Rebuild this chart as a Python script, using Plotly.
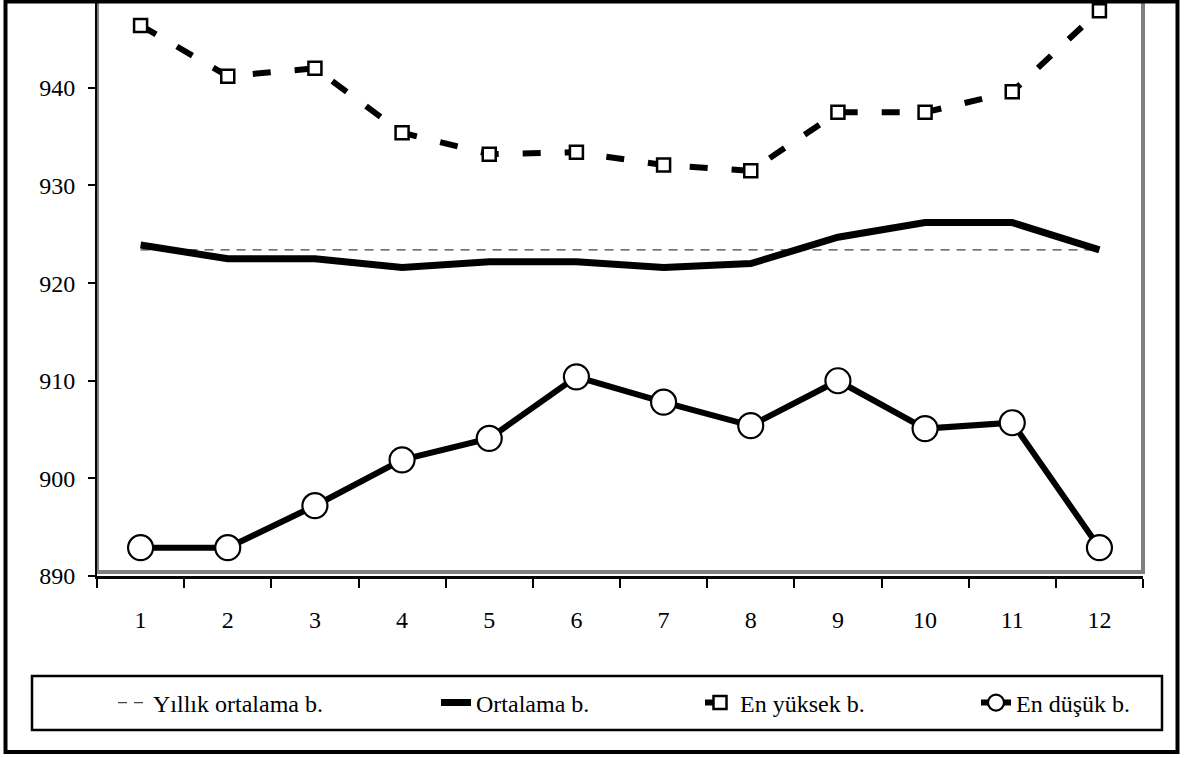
import plotly.graph_objects as go

# ---------------- data ----------------
months = ["1", "2", "3", "4", "5", "6", "7", "8", "9", "10", "11", "12"]
yearly_mean = [923.4, 923.4, 923.4, 923.4, 923.4, 923.4, 923.4, 923.4, 923.4, 923.4, 923.4, 923.4]
mean_p = [923.9, 922.5, 922.5, 921.6, 922.2, 922.2, 921.6, 922.0, 924.7, 926.2, 926.2, 923.4]
max_p = [946.4, 941.2, 942.0, 935.4, 933.2, 933.4, 932.1, 931.5, 937.5, 937.5, 939.6, 947.9]
min_p = [892.9, 892.9, 897.2, 901.9, 904.1, 910.4, 907.8, 905.4, 910.0, 905.1, 905.7, 892.9]
y_ticks = [890, 900, 910, 920, 930, 940]
series_names = ["Yıllık ortalama b.", "Ortalama b.", "En yüksek b.", "En düşük b."]

# ---------------- geometry ----------------
W, H = 1184, 758
L, R, T, B = 97, 1143, 0, 576
FONT = "Liberation Serif"


def px(x):
    return (x - L) / (R - L)


def py(y):
    return (B - y) / (B - T)


fig = go.Figure()

fig.add_trace(go.Scatter(
    x=months, y=yearly_mean, name=series_names[0], mode="lines",
    line=dict(color="#444444", width=1.2, dash="9px,7px"),
    legend="legend",
))
fig.add_trace(go.Scatter(
    x=months, y=mean_p, name=series_names[1], mode="lines",
    line=dict(color="black", width=7),
    legend="legend2",
))
fig.add_trace(go.Scatter(
    x=months, y=max_p, name=series_names[2], mode="lines+markers",
    line=dict(color="black", width=6, dash="18px,24px"),
    marker=dict(symbol="square", size=13, color="white",
                line=dict(color="black", width=2.5)),
    legend="legend3",
))
fig.add_trace(go.Scatter(
    x=months, y=min_p, name=series_names[3], mode="lines+markers",
    line=dict(color="black", width=6),
    marker=dict(symbol="circle", size=25, color="white",
                line=dict(color="black", width=2.2)),
    legend="legend4",
))

legend_text_x = [153, 476, 740, 1016]
legend_common = dict(
    orientation="h", yanchor="middle", xanchor="left",
    bgcolor="rgba(0,0,0,0)", borderwidth=0,
    font=dict(family=FONT, size=24, color="black"),
)
legends = {}
for i, key in enumerate(["legend", "legend2", "legend3", "legend4"]):
    legends[key] = dict(legend_common, x=px(legend_text_x[i] - 40), y=py(703))

shapes = [
    # plot area grey frame
    dict(type="rect", xref="paper", yref="paper", x0=px(97), x1=px(1143),
         y0=py(572), y1=py(-5), line=dict(color="#808080", width=4),
         fillcolor="rgba(0,0,0,0)", layer="below"),
    # legend box
    dict(type="rect", xref="paper", yref="paper", x0=px(32), x1=px(1162),
         y0=py(730), y1=py(676), line=dict(color="black", width=2.5),
         fillcolor="rgba(0,0,0,0)"),
    # outer chart border
    dict(type="rect", xref="paper", yref="paper", x0=px(5.5), x1=px(1177.5),
         y0=py(752), y1=py(1.5), line=dict(color="black", width=4),
         fillcolor="rgba(0,0,0,0)"),
]

fig.update_layout(
    width=W, height=H,
    margin=dict(l=L, r=W - R, t=T, b=H - B, pad=0),
    paper_bgcolor="white", plot_bgcolor="white",
    font=dict(family=FONT, size=24, color="black"),
    showlegend=True,
    shapes=shapes,
    xaxis=dict(
        type="category", categoryorder="array", categoryarray=months,
        range=[-0.5, 11.5],
        tickson="boundaries", ticks="outside", ticklen=9, tickwidth=2,
        tickcolor="black", showline=True, linecolor="black", linewidth=3,
        showgrid=False, zeroline=False, ticklabelstandoff=20,
        tickfont=dict(family=FONT, size=24, color="black"),
    ),
    yaxis=dict(
        range=[890, 949], tickvals=y_ticks, ticks="outside", ticklen=7,
        tickwidth=2, tickcolor="black", showline=True, linecolor="black",
        linewidth=2, showgrid=False, zeroline=False, ticklabelstandoff=8,
        tickfont=dict(family=FONT, size=24, color="black"),
    ),
    **legends,
)

fig.write_html(
    "out.html",
    config={"displayModeBar": False},
    post_script="document.body.style.margin='0';document.body.style.overflow='hidden';",
)
